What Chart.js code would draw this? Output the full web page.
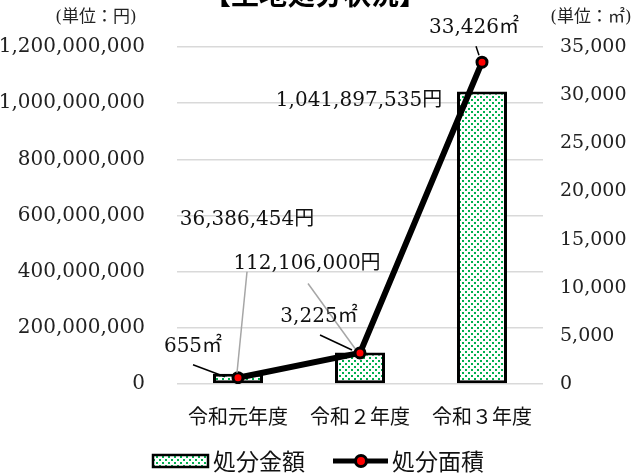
<!DOCTYPE html>
<html lang="ja">
<head>
<meta charset="UTF-8">
<title>土地処分状況</title>
<script src="https://cdn.jsdelivr.net/npm/chart.js"></script>
<style>
  body { margin: 0; background: #fff; }
  canvas { display: block; }
</style>
</head>
<body>
<canvas id="landChart" width="637" height="474"></canvas>
<script>
// chart data
const categories = ['令和元年度', '令和２年度', '令和３年度'];
const amountYen = [36386454, 112106000, 1041897535];
const areaSqm = [655, 3225, 33426];
const yenTicks = [0, 200000000, 400000000, 600000000, 800000000, 1000000000, 1200000000];
const sqmTicks = [0, 5000, 10000, 15000, 20000, 25000, 30000, 35000];
const seriesNames = ['処分金額', '処分面積'];

const NUM_FONT = '"DejaVu Serif", "Noto Sans CJK JP", serif';
const JP_FONT = '"Noto Sans CJK JP", sans-serif';

const canvas = document.getElementById('landChart');
const ctx = canvas.getContext('2d');

// green dotted fill, like the Excel pattern
function dotPattern() {
    const c = document.createElement('canvas');
    c.width = 6; c.height = 6;
    const g = c.getContext('2d');
    g.fillStyle = '#fff';
    g.fillRect(0, 0, 6, 6);
    g.fillStyle = '#00b050';
    g.fillRect(0, 0, 2, 2);
    g.fillRect(3, 3, 2, 2);
    return ctx.createPattern(c, 'repeat');
}
const dots = dotPattern();

// where each value label sits, relative to its bar top / point
const barLabelPos = [
    { dx: 9, dy: -154, lead: [9, -102, -1, -1] },
    { dx: -53, dy: -89, lead: [-52, -69, -5, -4] },
    { dx: -123, dy: 9, lead: null }
];
const pointLabelPos = [
    { dx: -45, dy: -31, lead: [-45, -13, -13, -1] },
    { dx: -41, dy: -36, lead: [-40, -18, -8, -3] },
    { dx: -8, dy: -34, lead: [-6, -16, -3, -7] }
];

const fmt = v => v.toLocaleString('en-US');

const valueLabels = {
    id: 'valueLabels',
    afterDatasetsDraw(chart) {
        const c = chart.ctx;
        const draw = (meta, pos, texts, leadColor) => {
            meta.data.forEach((el, i) => {
                const p = pos[i];
                if (p.lead) {
                    c.save();
                    c.strokeStyle = leadColor;
                    c.lineWidth = 1.5;
                    c.beginPath();
                    c.moveTo(el.x + p.lead[0], el.y + p.lead[1]);
                    c.lineTo(el.x + p.lead[2], el.y + p.lead[3]);
                    c.stroke();
                    c.restore();
                }
                c.save();
                c.font = '20px ' + NUM_FONT;
                c.fillStyle = '#111';
                c.textAlign = 'center';
                c.textBaseline = 'middle';
                c.fillText(texts[i], el.x + p.dx, el.y + p.dy);
                c.restore();
            });
        };
        draw(chart.getDatasetMeta(0), barLabelPos, amountYen.map(v => fmt(v) + '円'), '#a6a6a6');
        draw(chart.getDatasetMeta(1), pointLabelPos, areaSqm.map(v => fmt(v) + '㎡'), '#000');
    }
};

const decorations = {
    id: 'decorations',
    afterDraw(chart) {
        const c = chart.ctx;
        const area = chart.chartArea;
        c.save();
        // title, partly cut at the top like the source
        c.font = 'bold 28px ' + JP_FONT;
        c.fillStyle = '#000';
        c.textAlign = 'center';
        c.textBaseline = 'alphabetic';
        c.fillText('【土地処分状況】', 315, 5);

        // unit captions
        c.font = '17px ' + NUM_FONT;
        c.fillStyle = '#222';
        c.textBaseline = 'middle';
        c.fillText('(単位：円)', area.left - 81, area.top - 29);
        c.fillText('(単位：㎡)', area.right + 48, area.top - 29);

        // legend
        c.font = '23px ' + JP_FONT;
        c.textAlign = 'left';
        const w0 = c.measureText(seriesNames[0]).width;
        const w1 = c.measureText(seriesNames[1]).width;
        const total = 55 + 5 + w0 + 28 + 55 + 4 + w1;
        let x = (chart.width - total) / 2;
        const y = 461;
        c.fillStyle = dots;
        c.fillRect(x, y - 6, 55, 12);
        c.strokeStyle = '#000';
        c.lineWidth = 2.5;
        c.strokeRect(x, y - 6, 55, 12);
        x += 60;
        c.fillStyle = '#111';
        c.fillText(seriesNames[0], x, y);
        x += w0 + 28;
        c.lineWidth = 5;
        c.beginPath();
        c.moveTo(x, y);
        c.lineTo(x + 55, y);
        c.stroke();
        c.beginPath();
        c.arc(x + 28, y, 5.5, 0, Math.PI * 2);
        c.fillStyle = '#ff0000';
        c.fill();
        c.lineWidth = 3;
        c.stroke();
        x += 59;
        c.fillStyle = '#111';
        c.fillText(seriesNames[1], x, y);
        c.restore();
    }
};

new Chart(ctx, {
    type: 'bar',
    data: {
        labels: categories,
        datasets: [{
            type: 'bar',
            label: seriesNames[0],
            data: amountYen,
            yAxisID: 'y',
            backgroundColor: dots,
            borderColor: '#000',
            borderWidth: 3,
            borderSkipped: false,
            barPercentage: 0.41,
            categoryPercentage: 1,
            order: 2
        }, {
            type: 'line',
            label: seriesNames[1],
            data: areaSqm,
            yAxisID: 'y1',
            borderColor: '#000',
            borderWidth: 6,
            pointBackgroundColor: '#ff0000',
            pointBorderColor: '#000',
            pointBorderWidth: 3,
            pointRadius: 5,
            tension: 0,
            order: 1
        }]
    },
    options: {
        responsive: false,
        animation: false,
        devicePixelRatio: 1,
        layout: { padding: { top: 47, left: 0, right: 0, bottom: 0 } },
        plugins: {
            legend: { display: false },
            tooltip: { enabled: false }
        },
        scales: {
            x: {
                grid: { display: false },
                border: { display: false },
                ticks: { color: '#111', padding: 12, font: { family: JP_FONT, size: 20 } },
                afterFit(s) { s.height = 90; }
            },
            y: {
                position: 'left',
                min: yenTicks[0],
                max: yenTicks[yenTicks.length - 1],
                afterBuildTicks(s) { s.ticks = yenTicks.map(v => ({ value: v })); },
                ticks: {
                    color: '#222',
                    padding: 32,
                    font: { family: NUM_FONT, size: 20 },
                    callback: v => fmt(v)
                },
                grid: { color: '#d9d9d9', lineWidth: 1.5, drawTicks: false },
                border: { display: false },
                afterFit(s) { s.width = 177; }
            },
            y1: {
                position: 'right',
                min: sqmTicks[0],
                max: sqmTicks[sqmTicks.length - 1],
                afterBuildTicks(s) { s.ticks = sqmTicks.map(v => ({ value: v })); },
                ticks: {
                    color: '#222',
                    padding: 17,
                    font: { family: NUM_FONT, size: 19 },
                    callback: v => fmt(v)
                },
                grid: { display: false, drawTicks: false },
                border: { display: false },
                afterFit(s) { s.width = 94; }
            }
        }
    },
    plugins: [valueLabels, decorations]
});
</script>
</body>
</html>
